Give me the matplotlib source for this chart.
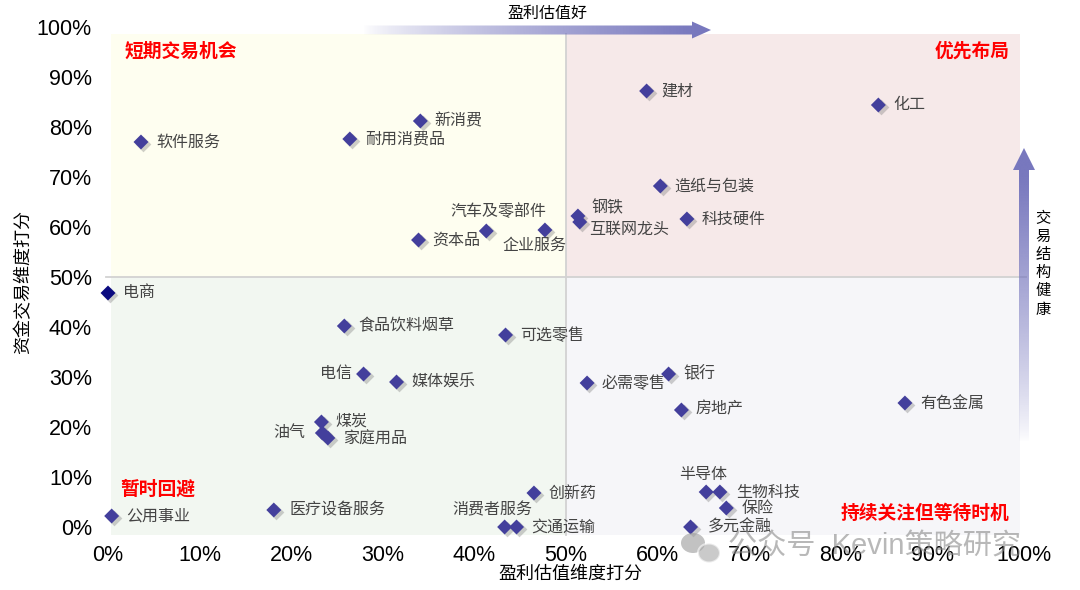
import numpy as np
import matplotlib
matplotlib.use('Agg')
import matplotlib.pyplot as plt
from matplotlib.patches import Polygon, Rectangle, Ellipse
import matplotlib.transforms as mtransforms

plt.rcParams['font.family'] = ['Liberation Sans', 'Noto Sans CJK SC', 'DejaVu Sans']

# ---------------- data ----------------
names = ['软件服务', '新消费', '耐用消费品', '资本品', '汽车及零部件', '企业服务',
         '钢铁', '互联网龙头', '建材', '化工', '造纸与包装', '科技硬件',
         '电商', '食品饮料烟草', '可选零售', '电信', '媒体娱乐', '必需零售',
         '银行', '房地产', '有色金属', '煤炭', '油气', '家庭用品',
         '创新药', '医疗设备服务', '公用事业', '消费者服务', '交通运输',
         '半导体', '生物科技', '保险', '多元金融']
profit_score = [3.6, 34.1, 26.4, 33.9, 41.3, 47.7,
                51.3, 51.5, 58.8, 84.1, 60.3, 63.2,
                0.0, 25.8, 43.4, 27.9, 31.5, 52.3,
                61.2, 62.6, 87.0, 23.3, 23.4, 24.0,
                46.5, 18.1, 0.4, 43.3, 44.6,
                65.3, 66.8, 67.5, 63.6]
trade_score = [77.0, 81.2, 77.6, 57.4, 59.2, 59.4,
               62.2, 61.0, 87.2, 84.4, 68.2, 61.6,
               46.8, 40.2, 38.4, 30.6, 29.0, 28.8,
               30.6, 23.4, 24.8, 21.0, 18.8, 17.8,
               6.8, 3.4, 2.2, 0.0, 0.0,
               7.0, 7.0, 3.8, 0.0]
tick_values = [0, 10, 20, 30, 40, 50, 60, 70, 80, 90, 100]
tick_labels = ['0%', '10%', '20%', '30%', '40%', '50%', '60%', '70%', '80%', '90%', '100%']
quadrant_titles = ['短期交易机会', '优先布局', '暂时回避', '持续关注但等待时机']

# ---------------- label placement (pixel offsets, style only) ----------------
label_pos = {
    '软件服务': (15, 0, 'left'), '新消费': (14, 0, 'left'), '耐用消费品': (15, 0, 'left'),
    '资本品': (14, 0, 'left'), '汽车及零部件': (12, 20, 'center'), '企业服务': (-10, -15, 'center'),
    '钢铁': (14, 8, 'left'), '互联网龙头': (9, -7, 'left'), '建材': (15, 0, 'left'),
    '化工': (15, 0, 'left'), '造纸与包装': (14, 0, 'left'), '科技硬件': (15, 0, 'left'),
    '电商': (15, 0, 'left'), '食品饮料烟草': (14, 0, 'left'), '可选零售': (15, 0, 'left'),
    '电信': (-12, 1, 'right'), '媒体娱乐': (15, 0, 'left'), '必需零售': (14, 0, 'left'),
    '银行': (15, 0, 'left'), '房地产': (14, 1, 'left'), '有色金属': (15, 0, 'left'),
    '煤炭': (14, 1, 'left'), '油气': (-17, 0, 'right'), '家庭用品': (15, -1, 'left'),
    '创新药': (15, 0, 'left'), '医疗设备服务': (16, 0, 'left'), '公用事业': (15, 0, 'left'),
    '消费者服务': (-12, 17, 'center'), '交通运输': (15, 0, 'left'), '半导体': (-3, 17, 'center'),
    '生物科技': (16, 0, 'left'), '保险': (15, 0, 'left'), '多元金融': (17, 0, 'left'),
}

W, H = 1080, 590
fig = plt.figure(figsize=(W / 100, H / 100), dpi=100)

# axes geometry: x=0 -> 108px, x=100 -> 1024px ; y=0 -> 527px, y=100 -> 27px
X0, X100, Y0, Y100 = 108.0, 1024.0, 527.0, 27.0
xlo, xhi, ylo, yhi = -1.0, 102.0, -3.0, 101.0
sx = (X100 - X0) / 100.0
sy = (Y0 - Y100) / 100.0
left_px = X0 + xlo * sx
right_px = X0 + xhi * sx
bot_px = Y0 - ylo * sy
top_px = Y0 - yhi * sy
ax = fig.add_axes([left_px / W, (H - bot_px) / H, (right_px - left_px) / W, (bot_px - top_px) / H])
ax.set_xlim(xlo, xhi)
ax.set_ylim(ylo, yhi)
for s in ax.spines.values():
    s.set_visible(False)

# quadrant backgrounds
qx0, qx1, qy0, qy1 = 0.3, 99.6, -1.6, 98.6
ax.add_patch(Rectangle((qx0, 50), 50 - qx0, qy1 - 50, facecolor='#FEFEF0', edgecolor='none', zorder=0))
ax.add_patch(Rectangle((50, 50), qx1 - 50, qy1 - 50, facecolor='#F6E9E9', edgecolor='none', zorder=0))
ax.add_patch(Rectangle((qx0, qy0), 50 - qx0, 50 - qy0, facecolor='#F2F7F1', edgecolor='none', zorder=0))
ax.add_patch(Rectangle((50, qy0), qx1 - 50, 50 - qy0, facecolor='#F6F6F9', edgecolor='none', zorder=0))
ax.plot([50, 50], [qy0, qy1], color='#D2D2D2', lw=1.3, zorder=1)
ax.plot([-0.2, 100.2], [50, 50], color='#D2D2D2', lw=1.3, zorder=1)

ax.set_xticks(tick_values)
ax.set_xticklabels(tick_labels)
ax.set_yticks(tick_values)
ax.set_yticklabels(tick_labels)
ax.tick_params(length=0, labelsize=15.5, colors='black', pad=2)
ax.tick_params(axis='y', pad=5)

ax.set_xlabel('盈利估值维度打分', fontsize=13, labelpad=0)
ax.set_ylabel('资金交易维度打分', fontsize=13, labelpad=3)

# diamonds with shadows
colors = ['#0B0B80' if n == '电商' else '#433F9C' for n in names]
shadow_tr = mtransforms.offset_copy(ax.transData, fig=fig, x=2.2, y=-2.2, units='dots')
ax.scatter(profit_score, trade_score, marker='D', s=64, color='#777777', alpha=0.35,
           transform=shadow_tr, zorder=2, clip_on=False, linewidths=0)
ax.scatter(profit_score, trade_score, marker='D', s=58, c=colors, zorder=3, clip_on=False,
           linewidths=0)

for n, xv, yv in zip(names, profit_score, trade_score):
    dx, dy, ha = label_pos[n]
    ax.annotate(n, (xv, yv), xytext=(dx, dy), textcoords='offset pixels',
                ha=ha, va='center', fontsize=11.5, color='#444444', zorder=4)

# quadrant titles
qstyle = dict(color='#FF0000', fontsize=13.5, fontweight='bold', zorder=5)
ax.text(1.8, 95.1, quadrant_titles[0], ha='left', va='center', **qstyle)
ax.text(98.4, 95.1, quadrant_titles[1], ha='right', va='center', **qstyle)
ax.text(1.3, 7.5, quadrant_titles[2], ha='left', va='center', **qstyle)
ax.text(98.4, 2.6, quadrant_titles[3], ha='right', va='center', **qstyle)

# ---------------- overlay (pixel coordinates) ----------------
ov = fig.add_axes([0, 0, 1, 1], zorder=10)
ov.set_xlim(0, W)
ov.set_ylim(H, 0)
ov.axis('off')
ov.patch.set_alpha(0)

arrow_rgb = np.array([120, 120, 190]) / 255.0

# horizontal arrow
hx0, hx1, htip = 363, 692, 711
hy, hw, hh = 30, 4.5, 8.5
hpoly = Polygon([(hx0, hy - hw), (hx1, hy - hw), (hx1, hy - hh), (htip, hy),
                 (hx1, hy + hh), (hx1, hy + hw), (hx0, hy + hw)], closed=True,
                facecolor='none', edgecolor='none')
ov.add_patch(hpoly)
t = np.linspace(0, 1, 400)
alpha = np.clip(t / 0.95, 0, 1) ** 0.75
img = np.zeros((2, 400, 4))
img[..., :3] = arrow_rgb
img[..., 3] = alpha
im = ov.imshow(img, extent=(hx0, htip, hy + hh + 1, hy - hh - 1), aspect='auto',
               interpolation='bilinear', zorder=11)
im.set_clip_path(hpoly)
ov.text(547, 13, '盈利估值好', ha='center', va='center', fontsize=11.5, color='black')

# vertical arrow
vx, vw, vh = 1024, 5, 11
vy_bot, vy_head, vy_tip = 442, 170, 148
vpoly = Polygon([(vx - vw, vy_bot), (vx - vw, vy_head), (vx - vh, vy_head), (vx, vy_tip),
                 (vx + vh, vy_head), (vx + vw, vy_head), (vx + vw, vy_bot)], closed=True,
                facecolor='none', edgecolor='none')
ov.add_patch(vpoly)
u = np.linspace(1, 0, 400)  # top -> bottom
valpha = np.clip(u / 0.9, 0, 1) ** 0.8
vimg = np.zeros((400, 2, 4))
vimg[..., :3] = arrow_rgb
vimg[..., 3] = valpha[:, None]
vim = ov.imshow(vimg, extent=(vx - vh - 1, vx + vh + 1, vy_bot, vy_tip), aspect='auto',
                interpolation='bilinear', zorder=11)
vim.set_clip_path(vpoly)
ov.text(1043, 264, '\n'.join('交易结构健康'), ha='center', va='center', fontsize=11,
        linespacing=1.38, color='black')

# watermark
ov.add_patch(Ellipse((693, 543), 24, 20, facecolor='#9A9A9A', alpha=0.6, edgecolor='none', zorder=12))
ov.add_patch(Ellipse((709, 553), 22, 19, facecolor='#A8A8A8', alpha=0.6, edgecolor='white',
                     lw=1.5, zorder=12))
ov.text(728, 547, '公众号  Kevin策略研究', ha='left', va='center', fontsize=21,
        color='#8A8A8A', alpha=0.6, zorder=12)

ov.set_xlim(0, W)
ov.set_ylim(H, 0)
fig.savefig('out.png', dpi=100)
